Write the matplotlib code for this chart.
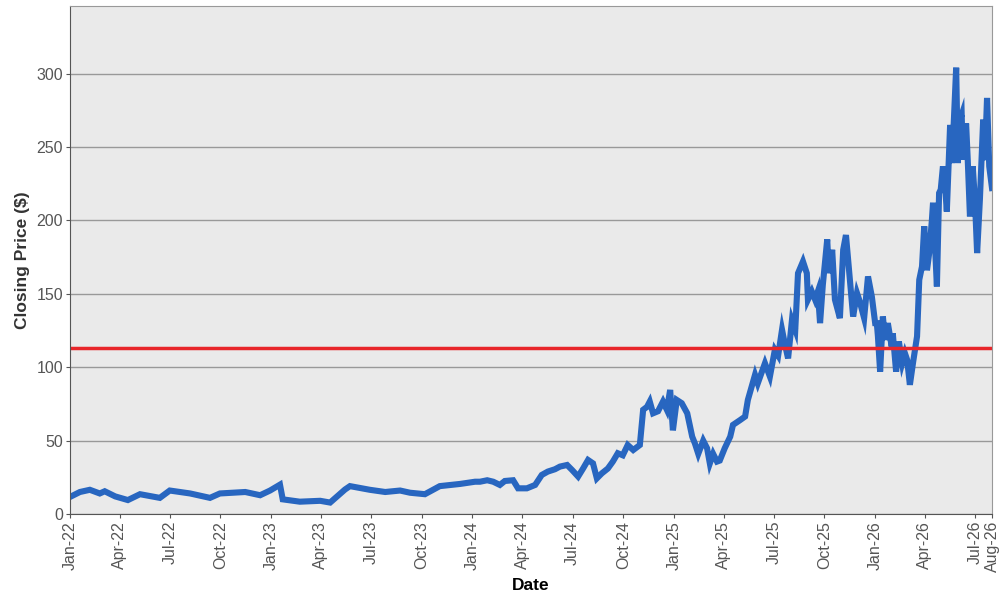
import numpy as np
import pandas as pd
import matplotlib
matplotlib.use('Agg')
import matplotlib.pyplot as plt
import matplotlib.dates as mdates

plt.rcParams['font.family'] = ['Liberation Sans', 'DejaVu Sans']

# closing prices
dates = [
    '2022-01-03', '2022-01-19', '2022-02-06', '2022-02-24', '2022-03-05', '2022-03-24',
    '2022-04-16', '2022-05-08', '2022-06-13', '2022-07-01', '2022-08-07', '2022-09-12',
    '2022-09-30', '2022-11-15', '2022-12-12', '2022-12-30', '2023-01-17', '2023-01-22',
    '2023-02-22', '2023-03-31', '2023-04-18', '2023-05-15', '2023-05-24', '2023-06-29',
    '2023-07-27', '2023-08-23', '2023-09-10', '2023-10-07', '2023-11-03', '2023-12-10',
    '2024-01-06', '2024-01-15', '2024-01-28', '2024-02-08', '2024-02-20', '2024-02-29',
    '2024-03-15', '2024-03-24', '2024-04-09', '2024-04-24', '2024-05-06', '2024-05-17',
    '2024-05-30', '2024-06-08', '2024-06-21', '2024-06-30', '2024-07-11', '2024-07-20',
    '2024-07-29', '2024-08-07', '2024-08-14', '2024-08-23', '2024-09-03', '2024-09-12',
    '2024-09-21', '2024-09-30', '2024-10-09', '2024-10-19', '2024-10-31', '2024-11-06',
    '2024-11-13', '2024-11-18', '2024-11-24', '2024-12-03', '2024-12-12', '2024-12-19',
    '2024-12-25', '2024-12-30', '2025-01-06', '2025-01-15', '2025-01-25', '2025-02-03',
    '2025-02-08', '2025-02-14', '2025-02-23', '2025-03-02', '2025-03-07', '2025-03-13',
    '2025-03-20', '2025-03-25', '2025-04-03', '2025-04-13', '2025-04-18', '2025-05-01',
    '2025-05-10', '2025-05-15', '2025-05-28', '2025-06-02', '2025-06-15', '2025-06-24',
    '2025-07-03', '2025-07-09', '2025-07-16', '2025-07-21', '2025-07-27', '2025-08-03',
    '2025-08-09', '2025-08-14', '2025-08-23', '2025-08-30', '2025-09-01', '2025-09-08',
    '2025-09-14', '2025-09-19', '2025-09-23', '2025-09-28', '2025-10-06', '2025-10-09',
    '2025-10-15', '2025-10-20', '2025-10-29', '2025-11-04', '2025-11-09', '2025-11-14',
    '2025-11-22', '2025-11-29', '2025-12-04', '2025-12-12', '2025-12-19', '2025-12-26',
    '2026-01-01', '2026-01-04', '2026-01-06', '2026-01-10', '2026-01-15', '2026-01-19',
    '2026-01-24', '2026-01-31', '2026-02-02', '2026-02-08', '2026-02-13', '2026-02-19',
    '2026-02-24', '2026-02-28', '2026-03-05', '2026-03-11', '2026-03-18', '2026-03-22',
    '2026-03-27', '2026-03-31', '2026-04-05', '2026-04-09', '2026-04-14', '2026-04-16',
    '2026-04-23', '2026-04-27', '2026-04-30', '2026-05-04', '2026-05-08', '2026-05-11',
    '2026-05-17', '2026-05-20', '2026-05-22', '2026-05-28', '2026-05-31', '2026-06-02',
    '2026-06-07', '2026-06-09', '2026-06-15', '2026-06-18', '2026-06-22', '2026-06-27',
    '2026-07-01', '2026-07-05', '2026-07-10', '2026-07-14', '2026-07-16', '2026-07-19',
    '2026-07-23', '2026-07-27', '2026-08-01',
]
close = [
    12, 15, 16.5, 14, 15.5, 12,
    9.5, 13.5, 11, 16, 14, 11,
    14, 15, 12.8, 16, 20, 10,
    8.4, 9, 7.8, 16.7, 19, 16.5,
    15, 16, 14.5, 13.5, 19, 20.5,
    22, 22, 23, 22, 19.8, 22.5,
    23, 17.5, 17.5, 19.8, 26.6, 28.9,
    30.5, 32.3, 33.4, 30, 25.5, 31,
    36.8, 34.5, 24.3, 27.7, 31, 35.7,
    41.4, 40, 47, 43.6, 47, 71,
    73, 76.6, 68.6, 70, 76.6, 71,
    84.5, 57, 77.7, 75.5, 68.6, 52.7,
    48, 41, 50, 44.8, 34.5, 41,
    35.7, 36.4, 44.8, 52.7, 60.7, 64,
    66.4, 77.7, 94.8, 89, 102.7, 93.6,
    111.8, 108, 125.5, 116, 106, 132,
    125.5, 164, 172, 164, 146, 151.6,
    146, 151.6, 130, 156, 187, 164,
    180, 146, 133.4, 180, 190, 168.6,
    134.5, 150.5, 144.8, 133.4, 161.8, 148,
    130, 130, 121, 97, 134.5, 118.6,
    130, 114, 123, 97, 117.5, 102.7,
    109.5, 105, 88, 103.8, 121, 159.5,
    168.6, 196, 166, 177.7, 200.5, 212,
    155, 218.6, 221, 236.8, 223, 206,
    265, 239, 252.7, 304, 239, 266.4,
    272, 241.4, 266, 241, 202.7, 236.8,
    214, 177.7, 214, 250.5, 268.6, 241,
    283.4, 236.8, 222,
]
ref_level = 113

df = pd.DataFrame({'date': pd.to_datetime(dates), 'close': close})

fig = plt.figure(figsize=(10, 6), dpi=100)
ax = fig.add_axes([0.07, 0.1433, 0.922, 0.8467])
ax.set_facecolor('#eaeaea')

ax.plot(df['date'], df['close'], color='#2866c0', linewidth=4.4, solid_joinstyle='miter')
ax.axhline(ref_level, color='#e8262a', linewidth=2.5)

ax.set_xlim(pd.Timestamp('2022-01-01'), pd.Timestamp('2026-08-01'))
ax.set_ylim(0, 346)
ax.set_yticks([0, 50, 100, 150, 200, 250, 300])

ticks = list(pd.date_range('2022-01-01', '2026-07-01', freq='3MS')) + [pd.Timestamp('2026-08-01')]
ax.set_xticks(ticks)
ax.xaxis.set_major_formatter(mdates.DateFormatter('%b-%y'))
plt.setp(ax.get_xticklabels(), rotation=90)

ax.yaxis.grid(True, color='#999999', linewidth=1)
ax.xaxis.grid(False)
ax.set_axisbelow(True)

ax.tick_params(axis='both', labelsize=11.5, labelcolor='#555555', color='#555555', length=3, pad=2)
for side in ['left', 'bottom']:
    ax.spines[side].set_color('#555555')
for side in ['top', 'right']:
    ax.spines[side].set_color('#999999')

ax.set_xlabel('Date', fontsize=12.5, fontweight='bold', labelpad=4)
ax.set_ylabel('Closing Price ($)', fontsize=12.5, fontweight='bold', color='#333333')
ax.yaxis.set_label_coords(-0.043, 0.5)

fig.savefig('out.png', dpi=100)
